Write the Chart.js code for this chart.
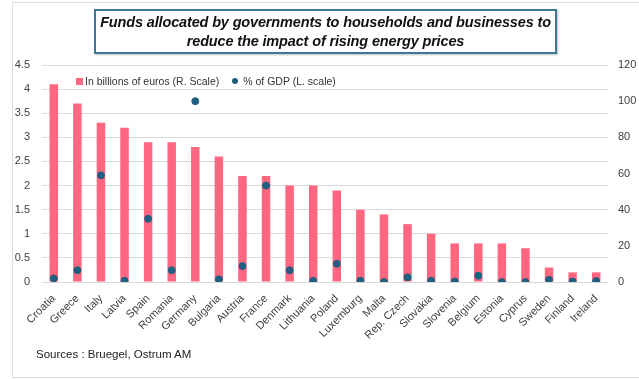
<!DOCTYPE html>
<html>
<head>
<meta charset="utf-8">
<script src="https://cdn.jsdelivr.net/npm/chart.js@4/dist/chart.umd.min.js"></script>
<style>
  html, body { margin: 0; padding: 0; background: #fff; }
  body { width: 639px; height: 379px; position: relative; overflow: hidden; font-family: "Liberation Sans", Arial, sans-serif; }
  #frame { position: absolute; left: 12px; top: 2px; width: 700px; height: 374px; border: 1px solid #dcdcdc; }
  #wrap { position: absolute; left: 0; top: 0; width: 639px; height: 379px; }
  #title { position: absolute; left: 94px; top: 9px; width: 459px; height: 39px; border: 2px solid #3d7896;
           text-align: center; font-weight: bold; font-style: italic; font-size: 14.5px; letter-spacing: -0.15px; line-height: 19px; color: #111;
           padding-top: 2px; box-shadow: 1px 1px 2px rgba(0,0,0,0.25); background: #fff; white-space: nowrap; }
  #legend { position: absolute; left: 76px; top: 75px; font-size: 10.5px; color: #333; white-space: nowrap; }
  #legend .sq { display: inline-block; width: 7px; height: 7px; background: #ff6680; margin-right: 2px; vertical-align: 0px; }
  #legend .dot { display: inline-block; width: 6px; height: 6px; border-radius: 50%; background: #1f5f7f; margin-left: 13px; margin-right: 5px; vertical-align: 1px; }
  #sources { position: absolute; left: 36px; top: 348px; font-size: 11.5px; color: #222; }
</style>
</head>
<body>
<div id="frame"></div>
<div id="wrap"><canvas id="chart" width="639" height="379"></canvas></div>
<div id="title">Funds allocated by governments to households and businesses to<br>reduce the impact of rising energy prices</div>
<div id="legend"><span class="sq"></span>In billions of euros (R. Scale)<span class="dot"></span>% of GDP (L. scale)</div>
<div id="sources">Sources : Bruegel, Ostrum AM</div>
<script>
const countries = ['Croatia', 'Greece', 'Italy', 'Latvia', 'Spain', 'Romania', 'Germany', 'Bulgaria', 'Austria', 'France',
  'Denmark', 'Lithuania', 'Poland', 'Luxemburg', 'Malta', 'Rep. Czech', 'Slovakia', 'Slovenia', 'Belgium', 'Estonia',
  'Cyprus', 'Sweden', 'Finland', 'Ireland'];
// bars, read on the left scale
const barValues = [4.1, 3.7, 3.3, 3.2, 2.9, 2.9, 2.8, 2.6, 2.2, 2.2,
  2.0, 2.0, 1.9, 1.5, 1.4, 1.2, 1.0, 0.8, 0.8, 0.8,
  0.7, 0.3, 0.2, 0.2];
// dots, read on the right scale
const dotValues = [2.0, 6.5, 59, 0.7, 35, 6.5, 100, 1.5, 8.8, 53.3,
  6.5, 0.7, 10.1, 0.7, 0, 2.6, 0.7, 0.3, 3.5, 0,
  0, 1.2, 0.3, 0.5];
const leftTicks = [0, 0.5, 1, 1.5, 2, 2.5, 3, 3.5, 4, 4.5];
const rightTicks = [0, 20, 40, 60, 80, 100, 120];

const tickFont = { family: '"Liberation Sans", Arial, sans-serif', size: 11 };

new Chart(document.getElementById('chart'), {
  data: {
    labels: countries,
    datasets: [
      {
        type: 'scatter',
        label: '% of GDP (L. scale)',
        data: dotValues,
        yAxisID: 'y1',
        backgroundColor: '#1f5f7f',
        borderColor: '#1f5f7f',
        pointRadius: 3.5,
        showLine: false,
        order: 0
      },
      {
        type: 'bar',
        label: 'In billions of euros (R. Scale)',
        data: barValues,
        yAxisID: 'y',
        backgroundColor: '#ff6680',
        barPercentage: 0.36,
        categoryPercentage: 1,
        order: 1
      }
    ]
  },
  options: {
    responsive: false,
    animation: false,
    layout: { padding: { left: 12, right: 0, top: 65, bottom: 0 } },
    plugins: { legend: { display: false }, tooltip: { enabled: false } },
    scales: {
      x: {
        type: 'category',
        grid: { display: false },
        border: { display: false },
        ticks: { color: '#404040', font: tickFont, minRotation: 45, maxRotation: 45, autoSkip: false, padding: 2 },
        afterFit: s => { s.height = 97; }
      },
      y: {
        position: 'left',
        min: 0, max: 4.5,
        afterBuildTicks: s => { s.ticks = leftTicks.map(v => ({ value: v })); },
        grid: { color: '#d9d9d9', lineWidth: 1, drawTicks: false },
        border: { display: false },
        ticks: { color: '#404040', font: tickFont, padding: 12, callback: v => String(v) },
        afterFit: s => { s.width = 30; }
      },
      y1: {
        position: 'right',
        min: 0, max: 120,
        afterBuildTicks: s => { s.ticks = rightTicks.map(v => ({ value: v })); },
        grid: { display: false, drawTicks: false },
        border: { display: false },
        ticks: { color: '#404040', font: tickFont, padding: 10, callback: v => String(v) },
        afterFit: s => { s.width = 31; }
      }
    }
  }
});
</script>
</body>
</html>
